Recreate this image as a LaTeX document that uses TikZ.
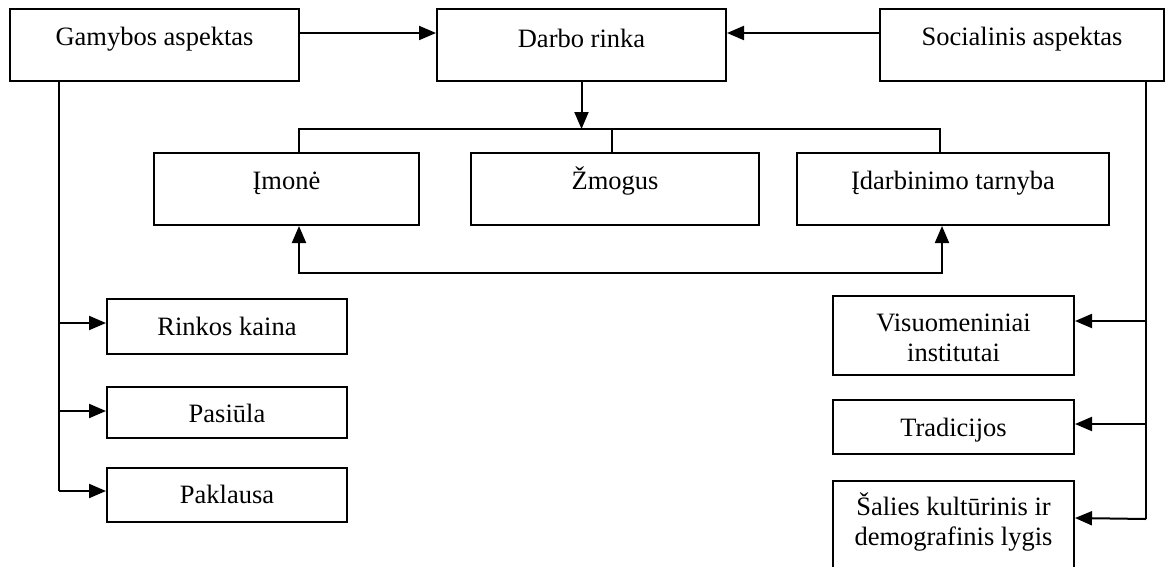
\documentclass[tikz,border=0pt]{standalone}
\usepackage{fontspec}
\setmainfont{Liberation Serif}
\usetikzlibrary{arrows.meta}
\begin{document}
\begin{tikzpicture}[x=1pt,y=-1pt,
  box/.style={draw,line width=2pt,rectangle,inner sep=0pt},
  lbl/.style={font=\fontsize{26.5}{30}\selectfont,inner sep=0pt,anchor=base},
  wire/.style={line width=2pt},
  arr/.style={wire,-{Triangle[length=17pt,width=14pt]}},
  darr/.style={wire,{Triangle[length=17pt,width=14pt]}-{Triangle[length=17pt,width=14pt]}}]
\useasboundingbox (0,0) rectangle (1165,566);
\clip (0,0) rectangle (1165,566);

% top row
\node[box,minimum width=289pt,minimum height=72pt] (gam) at (154.5,45) {};
\node[box,minimum width=289pt,minimum height=72pt] (darbo) at (581.5,45) {};
\node[box,minimum width=284pt,minimum height=72pt] (soc) at (1022,45) {};
\node[lbl] (tgam) at (154.5,45) {Gamybos aspektas};
\node[lbl] (tdarbo) at (581.5,47) {Darbo rinka};
\node[lbl] (tsoc) at (1022,45) {Socialinis aspektas};

% middle row
\node[box,minimum width=265pt,minimum height=72pt] (imone) at (286.5,189) {};
\node[box,minimum width=288pt,minimum height=72pt] (zmogus) at (615,189) {};
\node[box,minimum width=312pt,minimum height=72pt] (idarb) at (953,189) {};
\node[lbl] (timone) at (286.5,189) {Įmonė};
\node[lbl] (tzmogus) at (615,189) {Žmogus};
\node[lbl] (tidarb) at (953,189) {Įdarbinimo tarnyba};

% left column
\node[box,minimum width=240pt,minimum height=55pt] (rinkos) at (227,326.5) {};
\node[box,minimum width=240pt,minimum height=51pt] (pasiula) at (227,412.5) {};
\node[box,minimum width=240pt,minimum height=54pt] (paklausa) at (227,495) {};
\node[lbl] (trinkos) at (227,335) {Rinkos kaina};
\node[lbl] (tpasiula) at (227,422) {Pasiūla};
\node[lbl] (tpaklausa) at (227,503) {Paklausa};

% right column
\node[box,minimum width=241pt,minimum height=79pt] (visuo) at (953.5,335.5) {};
\node[box,minimum width=241pt,minimum height=54pt] (trad) at (953.5,427) {};
\node[box,minimum width=241pt,minimum height=119pt] (salies) at (953.5,540.5) {};
\node[lbl] (tvisuo1) at (953.5,331) {Visuomeniniai};
\node[lbl] (tvisuo2) at (953.5,361) {institutai};
\node[lbl] (ttrad) at (953.5,436) {Tradicijos};
\node[lbl] (tsalies1) at (953.5,515) {Šalies kultūrinis ir};
\node[lbl] (tsalies2) at (953.5,545) {demografinis lygis};

% aspects feeding the labour market
\draw[arr] ([yshift=12pt]gam.east) -- ([yshift=12pt]darbo.west);
\draw[arr] ([yshift=12pt]soc.west) -- ([yshift=12pt]darbo.east);

% distribution bus under the labour market
\coordinate (busL) at (299,129);
\coordinate (busR) at (940,129);
\coordinate (tick) at (612,129);
\draw[arr] (darbo.south) -- (darbo.south |- busL);
\draw[wire] (busL |- imone.north) -- (busL) -- (busR) -- (busR |- idarb.north);
\draw[wire] (tick) -- (tick |- zmogus.north);

% link between the company and the employment service
\coordinate (lowL) at (299,273);
\coordinate (lowR) at (942,273);
\draw[darr] (lowL |- imone.south) -- (lowL) -- (lowR) -- (lowR |- idarb.south);

% production aspect branches
\coordinate (gtrunk) at (59,0);
\draw[wire] (gtrunk |- gam.south) -- (gtrunk |- 0,491);
\draw[arr] (gtrunk |- 0,323) -- ([yshift=3.5pt]rinkos.west);
\draw[arr] (gtrunk |- 0,411) -- ([yshift=1.5pt]pasiula.west);
\draw[arr] (gtrunk |- 0,491) -- ([yshift=4pt]paklausa.west);

% social aspect branches
\coordinate (strunk) at (1146,0);
\draw[wire] (strunk |- soc.south) -- (strunk |- 0,519);
\draw[arr] (strunk |- 0,321) -- ([yshift=14.5pt]visuo.east);
\draw[arr] (strunk |- 0,424) -- ([yshift=3pt]trad.east);
\draw[arr] (strunk |- 0,519) -- ([yshift=-38pt]salies.north east);
\end{tikzpicture}
\end{document}
